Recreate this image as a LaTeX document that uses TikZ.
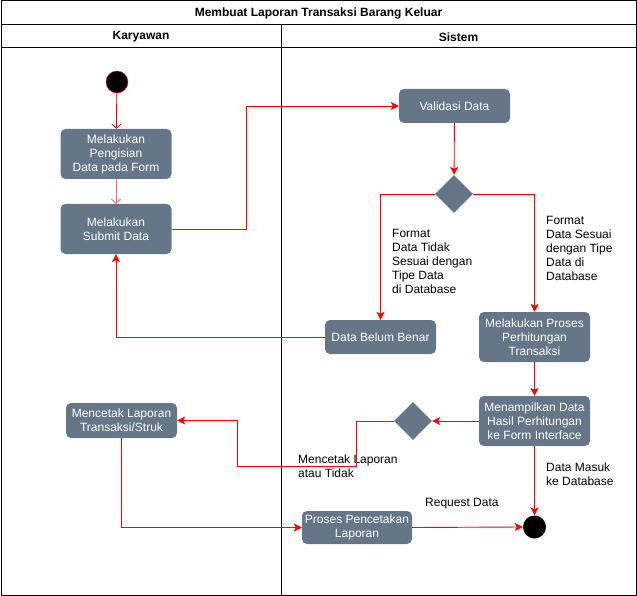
\documentclass[tikz,border=0pt]{standalone}
\usepackage{fontspec}
\setmainfont{Liberation Sans}
\usetikzlibrary{shapes.geometric, arrows.meta}
\definecolor{actfill}{HTML}{647687}

\begin{document}
\begin{tikzpicture}[x=1pt, y=-1pt,
    font=\fontsize{12}{14}\selectfont,
    act/.style={rectangle, rounded corners=5pt, fill=actfill, text=white, align=center, inner sep=0pt, minimum width=111pt},
    dec/.style={diamond, fill=actfill, inner sep=0pt, minimum width=38pt, minimum height=38pt},
    lbl/.style={align=left, anchor=west, inner sep=0pt},
    flow/.style={draw=red, line width=0.9pt, -{Stealth[inset=2pt, length=8pt, width=8pt]}},
    openflow/.style={draw=red, line width=0.9pt, -{Straight Barb[length=4pt, width=9pt]}}]
    \useasboundingbox (0,0) rectangle (637,596);

    % swimlanes
    \draw[line width=1pt] (1,1) rectangle (636,595);
    \draw[line width=1pt] (1,25) -- (636,25);
    \draw[line width=1pt] (1,48) -- (636,48);
    \draw[line width=1pt] (281,25) -- (281,595);
    \node[font=\fontsize{12}{14}\selectfont\bfseries] (judul) at (318.5,13) {Membuat Laporan Transaksi Barang Keluar};
    \node[font=\fontsize{12}{14}\selectfont\bfseries] (karyawan) at (141,37) {Karyawan};
    \node[font=\fontsize{12}{14}\selectfont\bfseries] (sistem) at (458.5,37) {Sistem};

    % aktivitas
    \node[circle, fill=black, draw=red, minimum size=22pt, inner sep=0pt] (start) at (117,82) {};
    \node[act, minimum height=50pt] (isi) at (116,154) {Melakukan\\Pengisian\\Data pada Form};
    \node[act, minimum height=50pt] (submit) at (116,229) {Melakukan\\Submit Data};
    \node[act, minimum height=34pt] (validasi) at (454.5,106) {Validasi Data};
    \node[dec] (cek) at (454,194) {};
    \node[act, minimum height=34pt] (belum) at (380.5,337) {Data Belum Benar};
    \node[act, minimum height=50pt] (hitung) at (534.5,337) {Melakukan Proses\\Perhitungan\\Transaksi};
    \node[act, minimum height=50pt] (tampil) at (534.5,421) {Menampilkan Data\\Hasil Perhitungan\\ke Form Interface};
    \node[dec] (cetakcek) at (413,421) {};
    \node[act, minimum height=35pt] (cetak) at (121.5,420.5) {Mencetak Laporan\\Transaksi/Struk};
    \node[act, minimum height=33pt, minimum width=110pt] (pencetakan) at (357,527.5) {Proses Pencetakan\\Laporan};
    \node[circle, fill=black, minimum size=23pt, inner sep=0pt] (end) at (534.5,527) {};

    % keterangan
    \node[lbl] (tidaksesuai) at (392,261) {Format\\Data Tidak\\Sesuai dengan\\Tipe Data\\di Database};
    \node[lbl] (sesuai) at (546,248) {Format\\Data Sesuai\\dengan Tipe\\Data di\\Database};
    \node[lbl] (pilihcetak) at (298,466) {Mencetak Laporan\\atau Tidak};
    \node[lbl] (masuk) at (546,474) {Data Masuk\\ke Database};
    \node[lbl] (request) at (425,504) {Request Data};

    % alur
    \path[openflow] (start) edge (isi);
    \path[openflow, draw=red!60] (isi) edge (submit);
    \draw[flow] (submit.east) -- ++(75,0) |- (validasi.west);
    \draw[flow] (validasi) -- (cek);
    \draw[flow] (cek.west) -| (belum.north);
    \draw[flow] (cek.east) -| (hitung.north);
    \draw[flow] (belum.west) -| (submit.south);
    \draw[flow] (hitung) -- (tampil);
    \draw[flow] (tampil.west) -- (cetakcek.east);
    \draw[flow] (cetakcek.west) -- ++(-37,0) -- ++(0,45) -| ([xshift=60pt]cetak.east) -- (cetak.east);
    \draw[flow] (cetak.south) |- (pencetakan.west);
    \draw[flow] (pencetakan.east) -- (end.west);
    \draw[flow] (tampil.south) -- (end.north);
\end{tikzpicture}
\end{document}
